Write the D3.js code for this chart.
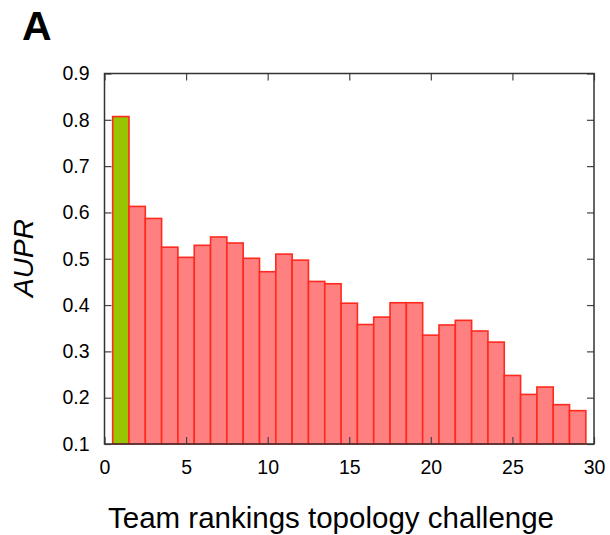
<!DOCTYPE html>
<html>
<head>
<meta charset="utf-8">
<script src="https://cdn.jsdelivr.net/npm/d3@7"></script>
<style>
  body { margin: 0; background: #fff; }
  text { font-family: Arial, "Liberation Sans", Helvetica, sans-serif; }
</style>
</head>
<body>
<svg width="610" height="535"></svg>
<script>
// team rank and AUPR score
var ranks = [1, 2, 3, 4, 5, 6, 7, 8, 9, 10, 11, 12, 13, 14, 15,
             16, 17, 18, 19, 20, 21, 22, 23, 24, 25, 26, 27, 28, 29];
var aupr = [0.807, 0.613, 0.587, 0.525, 0.503, 0.529, 0.547, 0.534, 0.501, 0.472,
            0.510, 0.497, 0.451, 0.446, 0.404, 0.358, 0.374, 0.405, 0.405, 0.335,
            0.357, 0.367, 0.344, 0.320, 0.248, 0.207, 0.223, 0.185, 0.172];
var highlight = [1]; // best team drawn in green

var xTicks = [0, 5, 10, 15, 20, 25, 30];
var yTicks = [0.1, 0.2, 0.3, 0.4, 0.5, 0.6, 0.7, 0.8, 0.9];

var svg = d3.select("svg");
var margin = {left: 104.5, right: 16, top: 73.5, bottom: 91};
var width = +svg.attr("width"), height = +svg.attr("height");

var x = d3.scaleLinear().domain([0, 30]).range([margin.left, width - margin.right]);
var y = d3.scaleLinear().domain([0.1, 0.9]).range([height - margin.bottom, margin.top]);

var data = ranks.map(function(r, i) { return {rank: r, value: aupr[i]}; });

svg.append("g")
  .selectAll("rect")
  .data(data)
  .enter().append("rect")
  .attr("x", function(d) { return x(d.rank - 0.5); })
  .attr("width", function(d) { return x(d.rank + 0.5) - x(d.rank - 0.5); })
  .attr("y", function(d) { return y(d.value); })
  .attr("height", function(d) { return y(0.1) - y(d.value); })
  .attr("fill", function(d) { return highlight.indexOf(d.rank) >= 0 ? "#99c400" : "#ff8080"; })
  .attr("stroke", "#ff2a1e")
  .attr("stroke-width", 1.6);

var tickLen = 7;

// bottom + top axes, ticks pointing in
svg.append("g")
  .attr("transform", "translate(0," + y(0.1) + ")")
  .call(d3.axisBottom(x).tickValues(xTicks).tickSizeInner(-tickLen).tickSizeOuter(0).tickPadding(16))
  .call(function(g) {
    g.select(".domain").remove();
    g.selectAll("text").attr("font-size", 19.5).attr("fill", "#000");
  });
svg.append("g")
  .attr("transform", "translate(0," + y(0.9) + ")")
  .call(d3.axisTop(x).tickValues(xTicks).tickSizeInner(-tickLen).tickSizeOuter(0).tickFormat(""))
  .call(function(g) { g.select(".domain").remove(); });

// left + right axes
svg.append("g")
  .attr("transform", "translate(" + x(0) + ",0)")
  .call(d3.axisLeft(y).tickValues(yTicks).tickFormat(d3.format(".1f")).tickSizeInner(-tickLen).tickSizeOuter(0).tickPadding(15))
  .call(function(g) {
    g.select(".domain").remove();
    g.selectAll("text").attr("font-size", 19.5).attr("fill", "#000");
  });
svg.append("g")
  .attr("transform", "translate(" + x(30) + ",0)")
  .call(d3.axisRight(y).tickValues(yTicks).tickSizeInner(-tickLen).tickSizeOuter(0).tickFormat(""))
  .call(function(g) { g.select(".domain").remove(); });

svg.selectAll(".tick line").attr("stroke", "#444").attr("stroke-width", 1.2);

// frame
svg.append("rect")
  .attr("x", x(0)).attr("y", y(0.9))
  .attr("width", x(30) - x(0)).attr("height", y(0.1) - y(0.9))
  .attr("fill", "none").attr("stroke", "#333").attr("stroke-width", 1.5);

svg.append("text")
  .attr("x", 331)
  .attr("y", 528)
  .attr("text-anchor", "middle")
  .attr("font-size", 29.5)
  .text("Team rankings topology challenge");

svg.append("text")
  .attr("transform", "translate(33,258) rotate(-90)")
  .attr("text-anchor", "middle")
  .attr("font-size", 28)
  .attr("font-style", "italic")
  .text("AUPR");

svg.append("text")
  .attr("x", 22).attr("y", 40)
  .attr("font-size", 41)
  .attr("font-weight", "bold")
  .text("A");
</script>
</body>
</html>
